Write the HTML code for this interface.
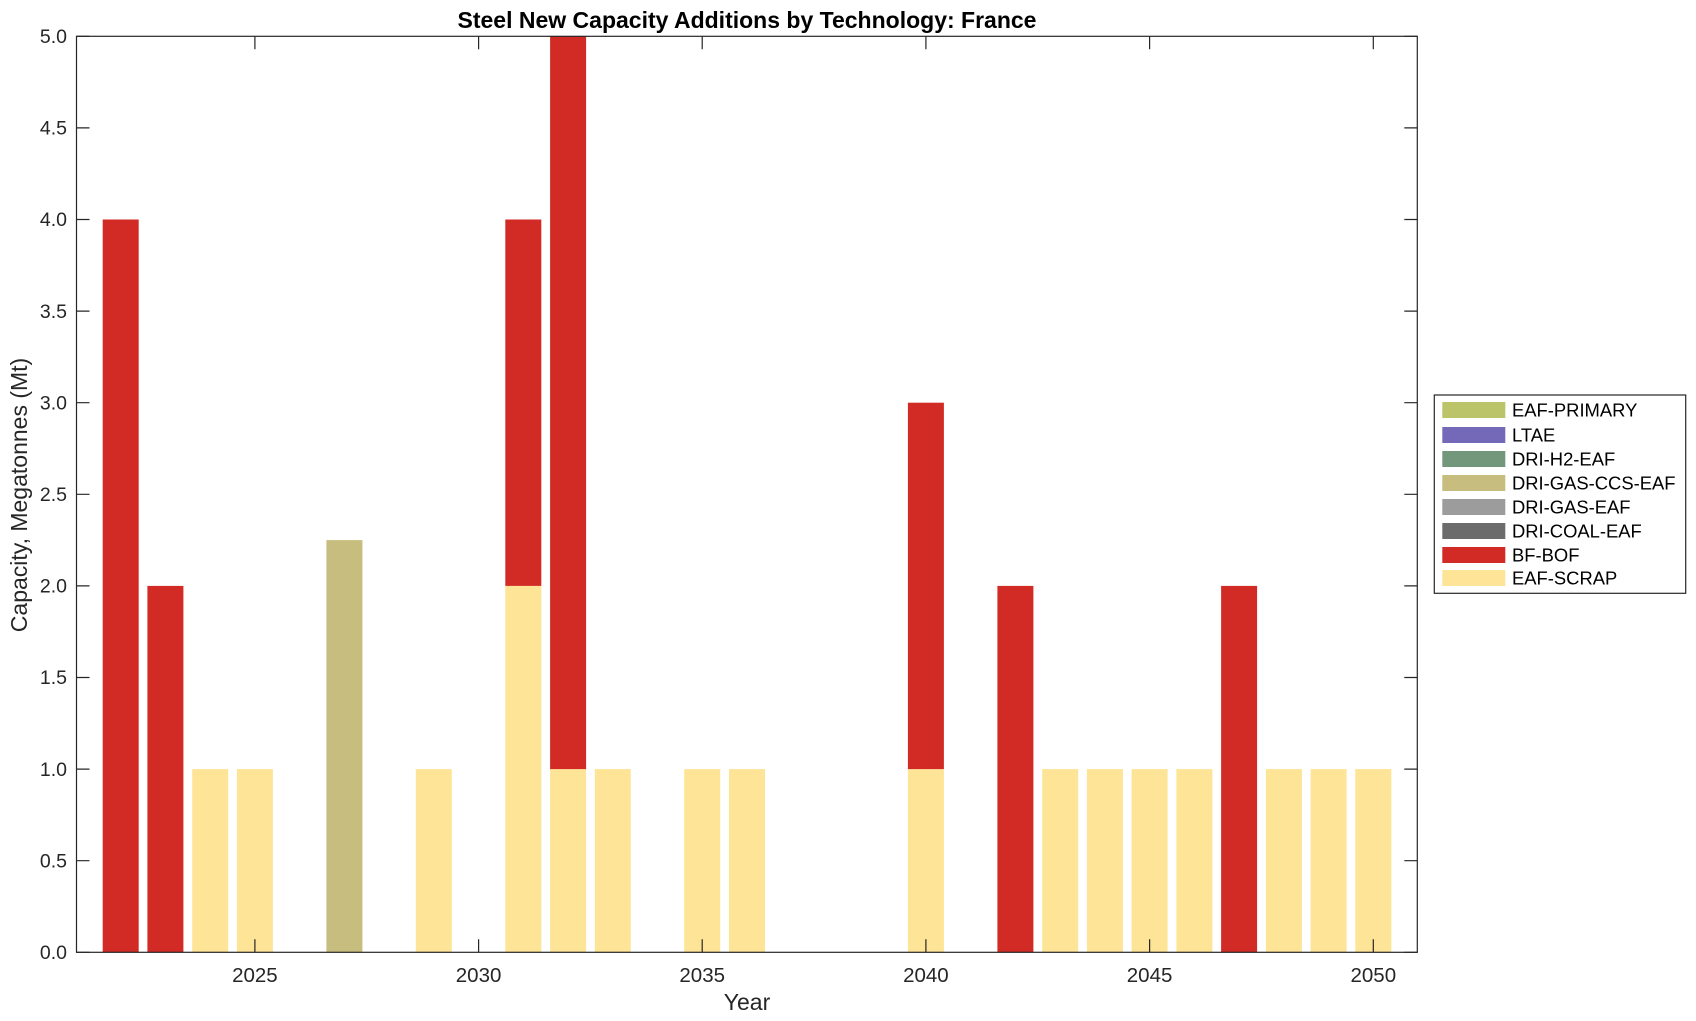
<!DOCTYPE html>
<html><head><meta charset="utf-8"><style>html,body{margin:0;padding:0;background:#fff}svg{display:block}text{font-family:"Liberation Sans",Arial,sans-serif;fill:#262626}</style></head>
<body>
<svg width="1696" height="1021" viewBox="0 0 1696 1021" xmlns="http://www.w3.org/2000/svg">
<rect width="1696" height="1021" fill="#fff"/>
<g id="bars">
<rect x="102.7" y="219.5" width="36" height="732.8" fill="#d22b25"/>
<rect x="147.4" y="585.9" width="36" height="366.4" fill="#d22b25"/>
<rect x="192.2" y="769.1" width="36" height="183.2" fill="#fee496"/>
<rect x="236.9" y="769.1" width="36" height="183.2" fill="#fee496"/>
<rect x="326.4" y="540.1" width="36" height="412.2" fill="#c6bd7e"/>
<rect x="415.8" y="769.1" width="36" height="183.2" fill="#fee496"/>
<rect x="505.3" y="585.9" width="36" height="366.4" fill="#fee496"/>
<rect x="505.3" y="219.5" width="36" height="366.4" fill="#d22b25"/>
<rect x="550.1" y="769.1" width="36" height="183.2" fill="#fee496"/>
<rect x="550.1" y="36.3" width="36" height="732.8" fill="#d22b25"/>
<rect x="594.8" y="769.1" width="36" height="183.2" fill="#fee496"/>
<rect x="684.2" y="769.1" width="36" height="183.2" fill="#fee496"/>
<rect x="729.0" y="769.1" width="36" height="183.2" fill="#fee496"/>
<rect x="907.9" y="769.1" width="36" height="183.2" fill="#fee496"/>
<rect x="907.9" y="402.7" width="36" height="366.4" fill="#d22b25"/>
<rect x="997.4" y="585.9" width="36" height="366.4" fill="#d22b25"/>
<rect x="1042.2" y="769.1" width="36" height="183.2" fill="#fee496"/>
<rect x="1086.9" y="769.1" width="36" height="183.2" fill="#fee496"/>
<rect x="1131.6" y="769.1" width="36" height="183.2" fill="#fee496"/>
<rect x="1176.4" y="769.1" width="36" height="183.2" fill="#fee496"/>
<rect x="1221.1" y="585.9" width="36" height="366.4" fill="#d22b25"/>
<rect x="1265.9" y="769.1" width="36" height="183.2" fill="#fee496"/>
<rect x="1310.6" y="769.1" width="36" height="183.2" fill="#fee496"/>
<rect x="1355.3" y="769.1" width="36" height="183.2" fill="#fee496"/>
</g>
<rect x="76.5" y="36.3" width="1340.8" height="916" fill="none" stroke="#262626" stroke-width="1.2"/>
<g stroke="#262626" stroke-width="1.2">
<path d="M76.5 952.3h13M76.5 860.7h13M76.5 769.1h13M76.5 677.5h13M76.5 585.9h13M76.5 494.3h13M76.5 402.7h13M76.5 311.1h13M76.5 219.5h13M76.5 127.9h13M76.5 36.3h13"/>
<path d="M1417.3 952.3h-13M1417.3 860.7h-13M1417.3 769.1h-13M1417.3 677.5h-13M1417.3 585.9h-13M1417.3 494.3h-13M1417.3 402.7h-13M1417.3 311.1h-13M1417.3 219.5h-13M1417.3 127.9h-13M1417.3 36.3h-13"/>
<path d="M254.9 952.3v-13M478.6 952.3v-13M702.2 952.3v-13M925.9 952.3v-13M1149.6 952.3v-13M1373.3 952.3v-13"/>
<path d="M254.9 36.3v13M478.6 36.3v13M702.2 36.3v13M925.9 36.3v13M1149.6 36.3v13M1373.3 36.3v13"/>
</g>
<g font-size="19.5" text-anchor="end">
<text x="67" y="959">0.0</text><text x="67" y="867.4">0.5</text><text x="67" y="775.8">1.0</text><text x="67" y="684.2">1.5</text><text x="67" y="592.6">2.0</text><text x="67" y="501">2.5</text><text x="67" y="409.4">3.0</text><text x="67" y="317.8">3.5</text><text x="67" y="226.2">4.0</text><text x="67" y="134.6">4.5</text><text x="67" y="43">5.0</text>
</g>
<g font-size="20.5" text-anchor="middle">
<text x="254.9" y="982">2025</text><text x="478.6" y="982">2030</text><text x="702.2" y="982">2035</text><text x="925.9" y="982">2040</text><text x="1149.6" y="982">2045</text><text x="1373.3" y="982">2050</text>
</g>
<text x="747" y="1010" font-size="23" text-anchor="middle">Year</text>
<text transform="translate(27,495) rotate(-90)" font-size="23" text-anchor="middle">Capacity, Megatonnes (Mt)</text>
<text x="747" y="28" font-size="23" font-weight="bold" text-anchor="middle" style="fill:#000">Steel New Capacity Additions by Technology: France</text>
<rect x="1434.3" y="395" width="251.4" height="198.3" fill="#fff" stroke="#262626" stroke-width="1.2"/>
<g font-size="18.4">
<rect x="1442.3" y="402" width="63" height="16" fill="#bcc46a"/><text x="1512" y="416.5" style="fill:#000">EAF-PRIMARY</text>
<rect x="1442.3" y="427" width="63" height="16" fill="#7469b8"/><text x="1512" y="441.5" style="fill:#000">LTAE</text>
<rect x="1442.3" y="451" width="63" height="16" fill="#72977b"/><text x="1512" y="465.5" style="fill:#000">DRI-H2-EAF</text>
<rect x="1442.3" y="475" width="63" height="16" fill="#c6bd7e"/><text x="1512" y="489.5" style="fill:#000">DRI-GAS-CCS-EAF</text>
<rect x="1442.3" y="499" width="63" height="16" fill="#9c9c9c"/><text x="1512" y="513.5" style="fill:#000">DRI-GAS-EAF</text>
<rect x="1442.3" y="523" width="63" height="16" fill="#6c6c6c"/><text x="1512" y="537.5" style="fill:#000">DRI-COAL-EAF</text>
<rect x="1442.3" y="547" width="63" height="16" fill="#d22b25"/><text x="1512" y="561.5" style="fill:#000">BF-BOF</text>
<rect x="1442.3" y="570" width="63" height="16" fill="#fee496"/><text x="1512" y="584.5" style="fill:#000">EAF-SCRAP</text>
</g>
</svg>
</body></html>
